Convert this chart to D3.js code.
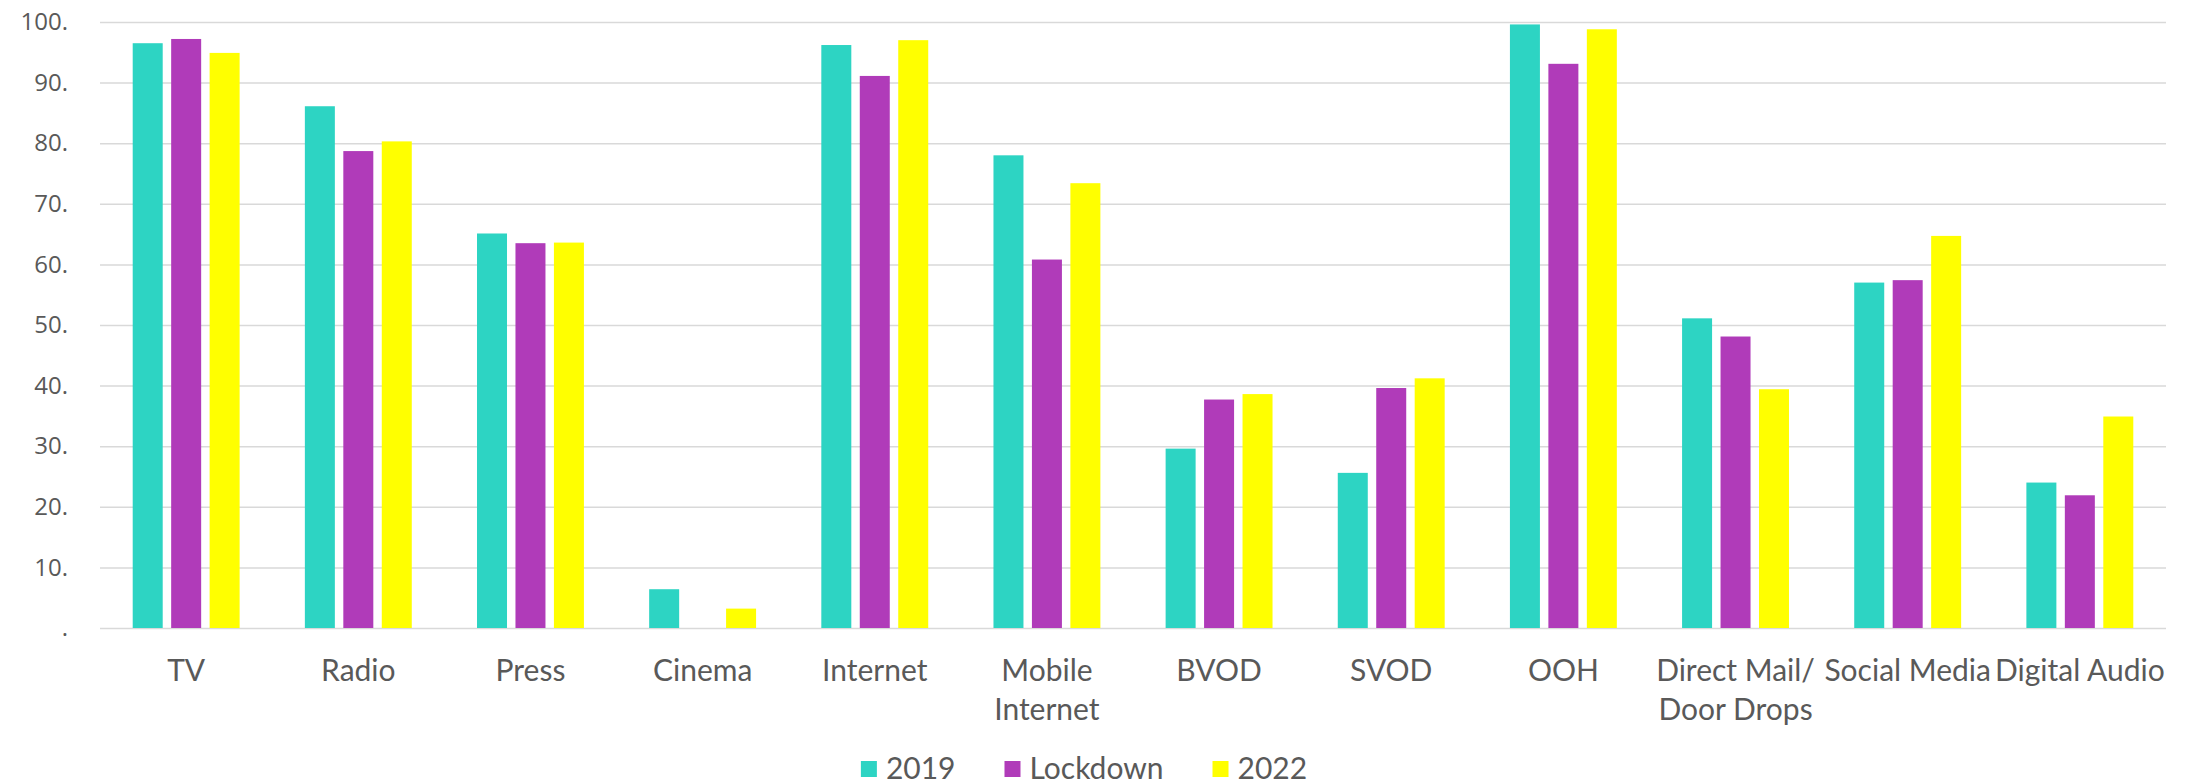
<!DOCTYPE html>
<html lang="en">
<head>
    <meta charset="UTF-8">
    <title>Media usage</title>
    <script src="https://cdn.jsdelivr.net/npm/d3@7"></script>
    <style>
        body { margin: 0; background: #fff; }
        svg { display: block; }
    </style>
</head>
<body>
<script>
    const categories = ['TV', 'Radio', 'Press', 'Cinema', 'Internet', 'Mobile\nInternet', 'BVOD', 'SVOD', 'OOH', 'Direct Mail/\nDoor Drops', 'Social Media', 'Digital Audio']
    const seriesNames = ['2019', 'Lockdown', '2022']
    const values2019 = [96.5, 86.1, 65.1, 6.4, 96.2, 78.0, 29.6, 25.6, 99.6, 51.1, 57.0, 24.0]
    const valuesLockdown = [97.2, 78.7, 63.5, null, 91.1, 60.8, 37.7, 39.6, 93.1, 48.1, 57.4, 21.9]
    const values2022 = [94.9, 80.3, 63.6, 3.2, 97.0, 73.4, 38.6, 41.2, 98.8, 39.4, 64.7, 34.9]
    const yTicks = [0, 10, 20, 30, 40, 50, 60, 70, 80, 90, 100]
    const colours = ['#2dd4c3', '#b03bb9', '#ffff00']

    const width = 2188
    const height = 784
    const margin = { top: 22, right: 22, bottom: 156, left: 100 }

    const seriesValues = [values2019, valuesLockdown, values2022]
    const rows = categories.map((c, i) => ({
        category: c,
        values: seriesNames.map((s, j) => ({ series: s, value: seriesValues[j][i] }))
    }))

    const svg = d3.select('body')
    .append('svg')
    .attr('width', width)
    .attr('height', height)

    const x0 = d3.scaleBand()
    .domain(categories)
    .range([margin.left, width - margin.right])
    .paddingInner(0.379)
    .paddingOuter(0.19)

    const x1 = d3.scaleBand()
    .domain(seriesNames)
    .range([0, x0.bandwidth()])
    .paddingInner(0.22)

    const y = d3.scaleLinear()
    .domain([0, 100])
    .range([height - margin.bottom, margin.top])

    const colourScale = d3.scaleOrdinal()
    .domain(seriesNames)
    .range(colours)

    const yAxis = svg.append('g')
    .attr('transform', `translate(${margin.left},0)`)
    .call(d3.axisLeft(y)
        .tickValues(yTicks)
        .tickSize(-(width - margin.left - margin.right))
        .tickPadding(32)
        .tickFormat((d) => d === 0 ? '.' : d + '.'))

    yAxis.select('.domain').remove()
    yAxis.selectAll('line')
    .attr('stroke', '#d9d9d9')
    .attr('stroke-width', 1.5)
    yAxis.selectAll('text')
    .attr('fill', '#595959')
    .style('font-family', '"Open Sans", sans-serif')
    .style('font-size', '24px')

    const group = svg.selectAll('.group')
    .data(rows)
    .enter()
    .append('g')
    .attr('class', 'group')
    .attr('transform', (d) => `translate(${x0(d.category)},0)`)

    group.selectAll('rect')
    .data((d) => d.values.filter((v) => v.value != null))
    .enter()
    .append('rect')
    .attr('x', (d) => x1(d.series))
    .attr('y', (d) => y(d.value))
    .attr('width', x1.bandwidth())
    .attr('height', (d) => y(0) - y(d.value))
    .attr('fill', (d) => colourScale(d.series))

    const labels = svg.selectAll('.cat-label')
    .data(categories)
    .enter()
    .append('text')
    .attr('class', 'cat-label')
    .attr('text-anchor', 'middle')
    .attr('fill', '#595959')
    .style('font-family', 'Lato, sans-serif')
    .style('font-size', '30px')

    labels.selectAll('tspan')
    .data((d) => d.split('\n').map((line) => ({ line, cat: d })))
    .enter()
    .append('tspan')
    .attr('x', (d) => x0(d.cat) + x0.bandwidth() / 2)
    .attr('y', (d, i) => y(0) + 53 + i * 39)
    .text((d) => d.line)

    const legend = svg.append('g')
    .attr('transform', `translate(0,${height - 15})`)

    const legendItems = legend.selectAll('g')
    .data(seriesNames)
    .enter()
    .append('g')

    legendItems.append('rect')
    .attr('y', -8)
    .attr('width', 16)
    .attr('height', 16)
    .attr('fill', (d) => colourScale(d))

    legendItems.append('text')
    .attr('x', 25)
    .attr('y', 10)
    .attr('fill', '#595959')
    .style('font-family', 'Lato, sans-serif')
    .style('font-size', '30px')
    .text((d) => d)

    let offset = 0
    const itemX = []
    legendItems.each(function () {
        itemX.push(offset)
        offset += 25 + this.querySelector('text').getComputedTextLength() + 49
    })
    const legendWidth = offset - 49
    const legendLeft = 1084 - legendWidth / 2
    legendItems.attr('transform', (d, i) => `translate(${legendLeft + itemX[i]},0)`)
</script>
</body>
</html>
